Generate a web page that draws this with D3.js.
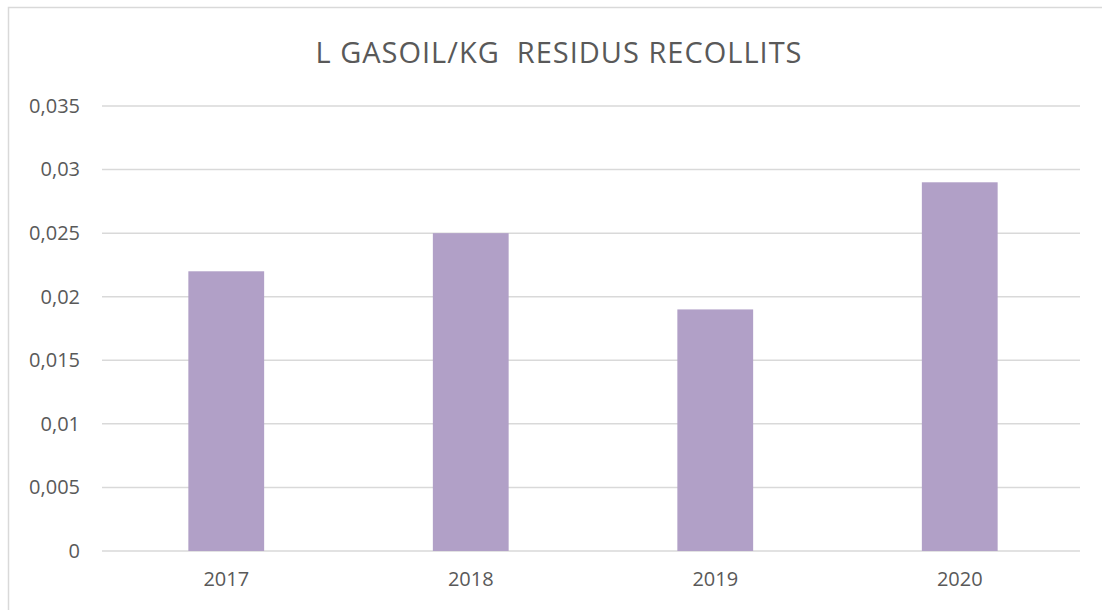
<!DOCTYPE html>
<html>
<head>
<meta charset="utf-8">
<script src="https://cdn.jsdelivr.net/npm/d3@7"></script>
<style>
  html, body { margin: 0; padding: 0; background: #fff; }
  svg { display: block; font-family: "Open Sans", Lato, sans-serif; }
</style>
</head>
<body>
<svg id="chart" width="1102" height="610"></svg>
<script>
const years = ["2017", "2018", "2019", "2020"];
const values = [0.022, 0.025, 0.019, 0.029];
const yTicks = [0, 0.005, 0.01, 0.015, 0.02, 0.025, 0.03, 0.035];
const title = "L GASOIL/KG  RESIDUS RECOLLITS";

const width = 1102, height = 610;
const margin = { top: 106, right: 22, bottom: 59, left: 102 };

const svg = d3.select("#chart");

// chart frame
svg.append("rect")
  .attr("x", 8.5).attr("y", 7.5)
  .attr("width", width + 10).attr("height", height + 10)
  .attr("fill", "none")
  .attr("stroke", "#d9d9d9")
  .attr("stroke-width", 1.5);

const x = d3.scaleBand()
  .domain(years)
  .range([margin.left, width - margin.right]);

const y = d3.scaleLinear()
  .domain([0, 0.035])
  .range([height - margin.bottom, margin.top]);

const fmt = (d) => d3.format("~g")(d).replace(".", ",");

// gridlines
svg.append("g")
  .selectAll("line")
  .data(yTicks)
  .join("line")
  .attr("x1", margin.left)
  .attr("x2", width - margin.right)
  .attr("y1", (d) => y(d))
  .attr("y2", (d) => y(d))
  .attr("stroke", "#d9d9d9")
  .attr("stroke-width", 1.5);

// y axis labels
const yAxis = d3.axisLeft(y).tickValues(yTicks).tickFormat(fmt).tickSize(0).tickPadding(22);
svg.append("g")
  .attr("transform", `translate(${margin.left},0)`)
  .call(yAxis)
  .call((g) => g.select(".domain").remove())
  .selectAll("text")
  .attr("font-family", '"Open Sans", Lato, sans-serif')
  .style("font-size", "20px")
  .style("fill", "#595959");

// bars
const barW = x.bandwidth() * 0.31;
svg.append("g")
  .selectAll("rect")
  .data(years.map((yr, i) => ({ yr, v: values[i] })))
  .join("rect")
  .attr("x", (d) => x(d.yr) + x.bandwidth() / 2 - barW / 2 + 2)
  .attr("y", (d) => y(d.v))
  .attr("width", barW)
  .attr("height", (d) => y(0) - y(d.v))
  .attr("fill", "#b1a0c7");

// x axis labels
const xAxis = d3.axisBottom(x).tickSize(0).tickPadding(21);
svg.append("g")
  .attr("transform", `translate(2,${height - margin.bottom})`)
  .call(xAxis)
  .call((g) => g.select(".domain").remove())
  .selectAll("text")
  .attr("font-family", '"Open Sans", Lato, sans-serif')
  .style("font-size", "20px")
  .style("fill", "#595959");

// title
svg.append("text")
  .attr("x", 559)
  .attr("y", 63)
  .attr("text-anchor", "middle")
  .style("font-size", "29px")
  .style("letter-spacing", "1px")
  .style("fill", "#595959")
  .style("white-space", "pre")
  .text(title);
</script>
</body>
</html>
